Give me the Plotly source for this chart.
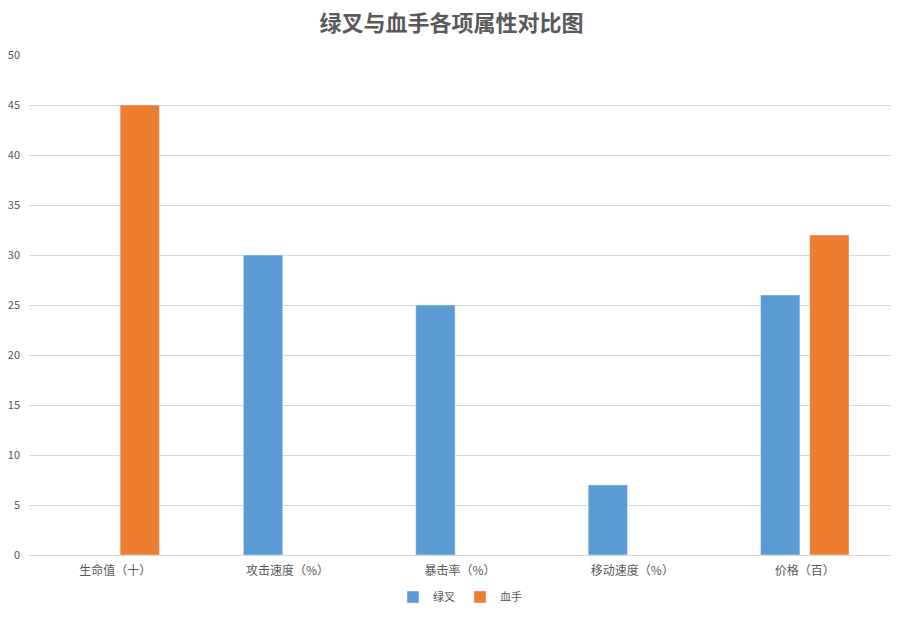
import plotly.graph_objects as go

categories = ["生命值（十）", "攻击速度（%）", "暴击率（%）", "移动速度（%）", "价格（百）"]
lvcha = [None, 30, 25, 7, 26]
xueshou = [45, None, None, None, 32]

fig = go.Figure()
fig.add_trace(go.Bar(name="绿叉", x=categories, y=lvcha, marker_color="#5B9BD5"))
fig.add_trace(go.Bar(name="血手", x=categories, y=xueshou, marker_color="#ED7D31"))

# page body has an 8px margin, so the figure is sized to fit inside the window
W, H = 887, 601
font = "Noto Sans CJK SC"
fig.update_layout(
    width=W, height=H,
    paper_bgcolor="white", plot_bgcolor="white",
    font=dict(family=font, color="#595959", size=12),
    title=dict(text="<b>绿叉与血手各项属性对比图</b>", x=0.5, xanchor="center",
               yref="container", y=1, yanchor="top", pad=dict(t=8),
               font=dict(family=font, size=22, color="#595959")),
    barmode="group", bargap=0.43, bargroupgap=0.2,
    margin=dict(l=21, r=4, t=47, b=54),
    legend=dict(orientation="h", x=0.5, xanchor="center",
                yref="container", y=12 / H, yanchor="middle",
                font=dict(size=11, color="#595959"), itemwidth=30),
    showlegend=True,
)
fig.update_xaxes(showline=True, linecolor="#D9D9D9", ticks="", showgrid=False,
                 automargin=False, tickfont=dict(size=12), ticklabelstandoff=5)
fig.update_yaxes(range=[0, 50], dtick=5, gridcolor="#D9D9D9", zeroline=False,
                 showline=False, ticks="", ticklabelstandoff=8, automargin=False,
                 tickfont=dict(size=11))

fig.write_html("out.html")
